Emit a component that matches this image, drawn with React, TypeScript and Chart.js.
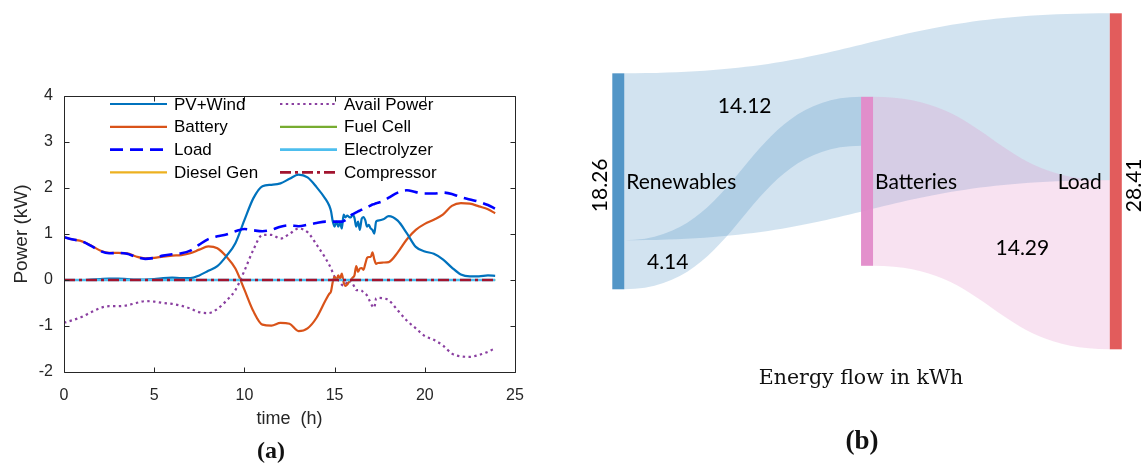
import React, { useEffect, useRef } from 'react';
import { Chart, registerables } from 'chart.js';

Chart.register(...registerables);

// ---------------- (a) data ----------------
const time = [0, 0.5, 1, 1.5, 2, 2.5, 3, 3.5, 4, 4.5, 5, 5.5, 6, 6.5, 7, 7.5, 8, 8.5, 9, 9.5, 10, 10.5, 11, 11.5, 12, 12.5, 13, 13.5, 14, 14.5,
  14.7, 14.8, 14.9, 15, 15.1, 15.2, 15.3, 15.4, 15.5, 15.6, 15.7, 15.8, 15.9, 16, 16.1, 16.2, 16.3, 16.4, 16.5, 16.6, 16.7, 16.8, 16.9, 17, 17.1, 17.2, 17.3, 17.4,
  17.7, 18, 18.5, 19, 19.5, 20, 20.5, 21, 21.5, 22, 22.5, 23, 23.5, 23.9];

const pvWind = [0, 0, 0, 0.01, 0.02, 0.03, 0.03, 0.02, 0.01, 0.01, 0.02, 0.04, 0.05, 0.04, 0.04, 0.1, 0.2, 0.3, 0.52, 0.8, 1.3, 1.78, 2.04, 2.07, 2.1, 2.2, 2.29, 2.23, 2.02, 1.76,
  1.62, 1.5, 1.27, 1.16, 1.27, 1.16, 1.25, 1.12, 1.42, 1.36, 1.4, 1.37, 1.36, 1.42, 1.35, 1.16, 1.27, 1.09, 1.33, 1.37, 1.3, 1.16, 1.2, 1.12, 1.09, 1.01, 1.27, 1.29,
  1.32, 1.39, 1.29, 1.02, 0.72, 0.62, 0.57, 0.45, 0.27, 0.12, 0.08, 0.08, 0.1, 0.09];

const battery = [0.93, 0.88, 0.84, 0.75, 0.64, 0.59, 0.59, 0.58, 0.51, 0.47, 0.48, 0.51, 0.53, 0.54, 0.58, 0.66, 0.73, 0.69, 0.51, 0.25, -0.21, -0.68, -0.97, -0.99, -0.93, -0.95, -1.11, -1.05, -0.82, -0.44,
  -0.3, -0.25, -0.04, 0.07, 0.0, 0.1, 0.03, 0.14, -0.05, -0.13, -0.1, -0.04, 0.0, 0.05, 0.1, 0.3, 0.18, 0.25, 0.26, 0.22, 0.35, 0.48, 0.5, 0.5, 0.6, 0.45, 0.35, 0.37,
  0.38, 0.39, 0.6, 0.88, 1.09, 1.22, 1.31, 1.42, 1.61, 1.67, 1.66, 1.6, 1.54, 1.45];

const load = [0.93, 0.88, 0.84, 0.74, 0.63, 0.58, 0.59, 0.57, 0.5, 0.46, 0.48, 0.53, 0.56, 0.58, 0.64, 0.77, 0.89, 0.95, 0.99, 1.06, 1.11, 1.08, 1.06, 1.09, 1.16, 1.19, 1.17, 1.2, 1.24, 1.27,
  1.27, 1.27, 1.27, 1.27, 1.27, 1.27, 1.27, 1.27, 1.28, 1.3, 1.33, 1.36, 1.4, 1.43, 1.45, 1.47, 1.49, 1.51, 1.53, 1.55, 1.56, 1.58, 1.6, 1.62, 1.64, 1.65, 1.67, 1.68,
  1.72, 1.79, 1.9, 1.95, 1.91, 1.88, 1.88, 1.9, 1.87, 1.8, 1.75, 1.7, 1.63, 1.55];

const availPower = [-0.93, -0.87, -0.8, -0.7, -0.61, -0.57, -0.57, -0.55, -0.5, -0.46, -0.47, -0.5, -0.52, -0.56, -0.62, -0.7, -0.72, -0.63, -0.45, -0.22, 0.2, 0.66, 0.98, 0.98, 0.9, 1.0, 1.12, 1.04, 0.77, 0.47,
  0.33, 0.26, 0.15, 0.07, 0.03, 0.0, -0.05, -0.1, -0.12, -0.11, -0.03, 0.0, -0.05, -0.08, -0.15, -0.22, -0.22, -0.22, -0.23, -0.27, -0.3, -0.34, -0.42, -0.5, -0.57, -0.6, -0.4, -0.39,
  -0.4, -0.44, -0.66, -0.88, -1.05, -1.22, -1.3, -1.42, -1.6, -1.66, -1.67, -1.63, -1.56, -1.48];

const flatTime = [0, 23.9];
const dieselGen = [0, 0];
const fuelCell = [0, 0];
const electrolyzer = [0, 0];
const compressor = [0, 0];

const xTicks = [0, 5, 10, 15, 20, 25];
const yTicks = [-2, -1, 0, 1, 2, 3, 4];

// ---------------- (b) data ----------------
const nodeNames = ['Renewables', 'Batteries', 'Load'];
const flowFrom = ['Renewables', 'Renewables', 'Batteries'];
const flowTo = ['Load', 'Batteries', 'Load'];
const flowValues = [14.12, 4.14, 14.29];

// ---------------- styles ----------------
const SANS = '"Liberation Sans", Arial, Helvetica, sans-serif';
const SANKEY_FONT = 'Lato, "Noto Sans", sans-serif';
const AXIS_COLOR = '#262626';
const NODE_COLORS: Record<string, string> = { Renewables: '#4A90C4', Batteries: '#E28AC9', Load: '#E05353' };
const NODE_W = 12;
const LINK_ALPHA = 0.25;
const LINK_LABEL_T = [0.2, 0.14, 0.668];
const LINK_LABEL_DY = [-44, 5, 5];

function xy(t: number[], v: number[]) {
  return t.map((x, i) => ({ x, y: v[i] }));
}

function rgba(hex: string, a: number) {
  const n = parseInt(hex.slice(1), 16);
  return `rgba(${(n >> 16) & 255},${(n >> 8) & 255},${n & 255},${a})`;
}

function layoutSankey() {
  const inSum: Record<string, number> = {};
  const outSum: Record<string, number> = {};
  const col: Record<string, number> = {};
  nodeNames.forEach((n) => { inSum[n] = 0; outSum[n] = 0; col[n] = 0; });
  flowValues.forEach((v, i) => { outSum[flowFrom[i]] += v; inSum[flowTo[i]] += v; });
  for (let k = 0; k < nodeNames.length; k++) {
    flowFrom.forEach((f, i) => { col[flowTo[i]] = Math.max(col[flowTo[i]], col[f] + 1); });
  }
  const total: Record<string, number> = {};
  nodeNames.forEach((n) => { total[n] = Math.max(inSum[n], outSum[n]); });
  const maxT = Math.max(...nodeNames.map((n) => total[n]));
  const maxCol = Math.max(...nodeNames.map((n) => col[n]));
  const topVal: Record<string, number> = {};
  nodeNames.forEach((n) => { topVal[n] = (maxT + total[n]) / 2; });
  return { col, total, maxT, maxCol, topVal };
}

const framePlugin = {
  id: 'matlabFrame',
  afterDatasetsDraw(chart: any) {
    const { ctx, chartArea } = chart;
    const { left, right, top, bottom } = chartArea;
    const xs = chart.scales.x;
    const ys = chart.scales.y;
    ctx.save();
    ctx.strokeStyle = AXIS_COLOR;
    ctx.lineWidth = 1;
    const L = Math.round(left) + 0.5, R = Math.round(right) + 0.5, T = Math.round(top) + 0.5, B = Math.round(bottom) + 0.5;
    ctx.beginPath();
    ctx.rect(L, T, R - L, B - T);
    xTicks.forEach((v) => {
      const p = Math.round(xs.getPixelForValue(v)) + 0.5;
      ctx.moveTo(p, B); ctx.lineTo(p, B - 5);
      ctx.moveTo(p, T); ctx.lineTo(p, T + 5);
    });
    yTicks.forEach((v) => {
      const p = Math.round(ys.getPixelForValue(v)) + 0.5;
      ctx.moveTo(L, p); ctx.lineTo(L + 5, p);
      ctx.moveTo(R, p); ctx.lineTo(R - 5, p);
    });
    ctx.stroke();
    ctx.restore();
  },
};

const legendPlugin = {
  id: 'matlabLegend',
  afterDraw(chart: any) {
    const { ctx } = chart;
    const lineX = [110, 280];
    const textX = [174, 344];
    const lineLen = 57;
    ctx.save();
    ctx.font = `17px ${SANS}`;
    ctx.textBaseline = 'middle';
    ctx.textAlign = 'left';
    chart.data.datasets.forEach((ds: any, i: number) => {
      const c = Math.floor(i / 4);
      const r = i % 4;
      const y = 104 + r * 22.8;
      ctx.beginPath();
      ctx.strokeStyle = ds.borderColor;
      ctx.lineWidth = ds.borderWidth;
      ctx.setLineDash(ds.borderDash || []);
      ctx.moveTo(lineX[c], y);
      ctx.lineTo(lineX[c] + lineLen, y);
      ctx.stroke();
      ctx.setLineDash([]);
      ctx.fillStyle = '#000';
      ctx.fillText(ds.label, textX[c], y + 1);
    });
    ctx.restore();
  },
};

const sankeyPlugin = {
  id: 'sankey',
  afterDraw(chart: any) {
    const { ctx } = chart;
    const xs = chart.scales.x;
    const ys = chart.scales.y;
    const L = layoutSankey();
    const py = (v: number) => ys.getPixelForValue(v);
    const outOff: Record<string, number> = {};
    const inOff: Record<string, number> = {};
    const bez = (t: number, a: number, b: number, c: number, d: number) =>
      (1 - t) ** 3 * a + 3 * (1 - t) ** 2 * t * b + 3 * (1 - t) * t * t * c + t ** 3 * d;
    const linkGeo: any[] = [];
    ctx.save();
    flowValues.forEach((v, i) => {
      const s = flowFrom[i], t = flowTo[i];
      const sTop = L.topVal[s] - (outOff[s] || 0);
      outOff[s] = (outOff[s] || 0) + v;
      const tTop = L.topVal[t] - (inOff[t] || 0);
      inOff[t] = (inOff[t] || 0) + v;
      const x0 = xs.getPixelForValue(L.col[s]) + NODE_W / 2;
      const x1 = xs.getPixelForValue(L.col[t]) - NODE_W / 2;
      const xm = (x0 + x1) / 2;
      const y0t = py(sTop), y0b = py(sTop - v), y1t = py(tTop), y1b = py(tTop - v);
      ctx.beginPath();
      ctx.moveTo(x0, y0t);
      ctx.bezierCurveTo(xm, y0t, xm, y1t, x1, y1t);
      ctx.lineTo(x1, y1b);
      ctx.bezierCurveTo(xm, y1b, xm, y0b, x0, y0b);
      ctx.closePath();
      ctx.fillStyle = rgba(NODE_COLORS[s], LINK_ALPHA);
      ctx.fill();
      linkGeo.push({ x0, x1, xm, y0t, y0b, y1t, y1b, v });
    });
    // nodes
    nodeNames.forEach((n) => {
      const xc = xs.getPixelForValue(L.col[n]);
      const yt = py(L.topVal[n]);
      const yb = py(L.topVal[n] - L.total[n]);
      ctx.fillStyle = rgba(NODE_COLORS[n], 0.95);
      ctx.fillRect(xc - NODE_W / 2, yt, NODE_W, yb - yt);
    });
    // node labels
    ctx.fillStyle = '#000';
    ctx.font = `21px ${SANKEY_FONT}`;
    ctx.textBaseline = 'middle';
    nodeNames.forEach((n) => {
      const xc = xs.getPixelForValue(L.col[n]);
      const yt = py(L.topVal[n]);
      const yb = py(L.topVal[n] - L.total[n]);
      const ym = (yt + yb) / 2;
      const last = L.col[n] === L.maxCol;
      ctx.textAlign = last ? 'right' : 'left';
      ctx.fillText(n, last ? xc - NODE_W / 2 - 8 : xc + NODE_W / 2 + 2, ym + 1);
      // value label rotated
      const first = L.col[n] === 0;
      if (first || last) {
        ctx.save();
        ctx.translate(first ? xc - NODE_W / 2 - 12 : xc + NODE_W / 2 + 12, ym + 4);
        ctx.rotate(-Math.PI / 2);
        ctx.textAlign = 'center';
        ctx.fillText(L.total[n].toFixed(2), 0, 0);
        ctx.restore();
      }
    });
    // link labels
    ctx.textAlign = 'center';
    linkGeo.forEach((g, i) => {
      const t = LINK_LABEL_T[i];
      const x = bez(t, g.x0, g.xm, g.xm, g.x1);
      const yt = bez(t, g.y0t, g.y0t, g.y1t, g.y1t);
      const yb = bez(t, g.y0b, g.y0b, g.y1b, g.y1b);
      ctx.fillText(g.v.toFixed(2), x, (yt + yb) / 2 + LINK_LABEL_DY[i]);
    });
    ctx.restore();
  },
};

export default function App() {
  const leftRef = useRef<HTMLCanvasElement>(null);
  const rightRef = useRef<HTMLCanvasElement>(null);

  useEffect(() => {
    const lineBase = { pointRadius: 0, fill: false, cubicInterpolationMode: 'monotone' as const, borderCapStyle: 'butt' as const };
    const datasets: any[] = [
      { ...lineBase, label: 'PV+Wind', data: xy(time, pvWind), borderColor: '#0072BD', borderWidth: 2.2, order: 5 },
      { ...lineBase, label: 'Battery', data: xy(time, battery), borderColor: '#D95319', borderWidth: 2.2, order: 6 },
      { ...lineBase, label: 'Load', data: xy(time, load), borderColor: '#0000FF', borderWidth: 2.6, borderDash: [13, 7], order: 0 },
      { ...lineBase, label: 'Diesel Gen', data: xy(flatTime, dieselGen), borderColor: '#EDB120', borderWidth: 2.2, order: 4 },
      { ...lineBase, label: 'Avail Power', data: xy(time, availPower), borderColor: '#8A3FA0', borderWidth: 2.2, borderDash: [2.4, 3.4], order: 7 },
      { ...lineBase, label: 'Fuel Cell', data: xy(flatTime, fuelCell), borderColor: '#77AC30', borderWidth: 2.2, order: 3 },
      { ...lineBase, label: 'Electrolyzer', data: xy(flatTime, electrolyzer), borderColor: '#4DBEEE', borderWidth: 2.6, order: 2 },
      { ...lineBase, label: 'Compressor', data: xy(flatTime, compressor), borderColor: '#A2142F', borderWidth: 2.6, borderDash: [11, 4, 3, 4], order: 1 },
    ];

    const left = new Chart(leftRef.current!, {
      type: 'line',
      data: { datasets },
      options: {
        responsive: false,
        animation: false,
        devicePixelRatio: 1,
        layout: { padding: { left: 0, right: 25, top: 96, bottom: 0 } },
        plugins: { legend: { display: false }, tooltip: { enabled: false } },
        scales: {
          x: {
            type: 'linear', min: 0, max: 25,
            grid: { display: false, drawTicks: false }, border: { display: false },
            afterBuildTicks: (s: any) => { s.ticks = xTicks.map((v) => ({ value: v })); },
            afterFit: (s: any) => { s.height = 92; },
            ticks: { font: { family: SANS, size: 16 }, color: AXIS_COLOR, padding: 14, maxRotation: 0, autoSkip: false },
            title: { display: true, text: 'time  (h)', font: { family: SANS, size: 18 }, color: AXIS_COLOR, padding: { top: 0, bottom: 34 } },
          },
          y: {
            type: 'linear', min: -2, max: 4,
            grid: { display: false, drawTicks: false }, border: { display: false },
            afterBuildTicks: (s: any) => { s.ticks = yTicks.map((v) => ({ value: v })); },
            afterFit: (s: any) => { s.width = 64; },
            ticks: { font: { family: SANS, size: 16 }, color: AXIS_COLOR, padding: 11, autoSkip: false },
            title: { display: true, text: 'Power (kW)', font: { family: SANS, size: 19 }, color: AXIS_COLOR, padding: { top: 10, bottom: 0 } },
          },
        },
      } as any,
      plugins: [framePlugin, legendPlugin],
    });

    const L = layoutSankey();
    const right = new Chart(rightRef.current!, {
      type: 'scatter',
      data: { datasets: [] },
      options: {
        responsive: false,
        animation: false,
        devicePixelRatio: 1,
        layout: { padding: { left: 58.3, right: 26.2, top: 13.3, bottom: 114.7 } },
        plugins: { legend: { display: false }, tooltip: { enabled: false } },
        scales: {
          x: { type: 'linear', min: 0, max: L.maxCol, display: false },
          y: { type: 'linear', min: 0, max: L.maxT, display: false },
        },
      } as any,
      plugins: [sankeyPlugin],
    });

    return () => { left.destroy(); right.destroy(); };
  }, []);

  return (
    <div style={{ position: 'absolute', left: 0, top: 0, width: 1142, height: 464, background: '#fff', overflow: 'hidden' }}>
      <canvas ref={leftRef} width={540} height={464} style={{ position: 'absolute', left: 0, top: 0, width: 540, height: 464 }} />
      <canvas ref={rightRef} width={582} height={464} style={{ position: 'absolute', left: 560, top: 0, width: 582, height: 464 }} />
      <div style={{ position: 'absolute', left: 861, top: 365, transform: 'translateX(-50%)', whiteSpace: 'nowrap', fontFamily: '"DejaVu Serif", serif', fontSize: 20.5, lineHeight: '24px', color: '#111' }}>
        Energy flow in kWh
      </div>
      <div style={{ position: 'absolute', left: 271, top: 436, transform: 'translateX(-50%)', whiteSpace: 'nowrap', fontFamily: '"Liberation Serif", serif', fontWeight: 'bold', fontSize: 24, lineHeight: '28px', color: '#111' }}>
        (a)
      </div>
      <div style={{ position: 'absolute', left: 862, top: 424, transform: 'translateX(-50%)', whiteSpace: 'nowrap', fontFamily: '"Liberation Serif", serif', fontWeight: 'bold', fontSize: 27, lineHeight: '32px', color: '#111' }}>
        (b)
      </div>
    </div>
  );
}
